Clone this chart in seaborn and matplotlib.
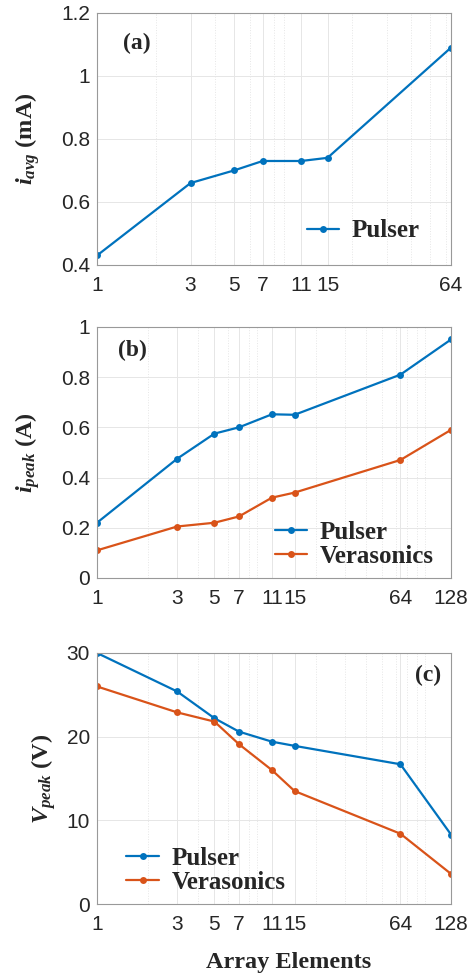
import matplotlib
matplotlib.use("Agg")
import matplotlib.pyplot as plt
import matplotlib.ticker as mticker
import seaborn as sns

# data
elements_a = [1, 3, 5, 7, 11, 15, 64]
elements_bc = [1, 3, 5, 7, 11, 15, 64, 128]

iavg_pulser = [0.43, 0.66, 0.70, 0.73, 0.73, 0.74, 1.09]

ipeak_pulser = [0.22, 0.475, 0.575, 0.60, 0.652, 0.65, 0.81, 0.95]
ipeak_verasonics = [0.11, 0.205, 0.22, 0.245, 0.32, 0.34, 0.47, 0.59]

vpeak_pulser = [30.0, 25.4, 22.2, 20.6, 19.4, 18.9, 16.7, 8.3]
vpeak_verasonics = [26.0, 22.9, 21.8, 19.1, 16.0, 13.5, 8.4, 3.6]

BLUE = "#0072BD"
ORANGE = "#D95319"

sns.set_theme(style="whitegrid")
plt.rcParams["font.family"] = ["Liberation Sans", "DejaVu Sans"]
plt.rcParams["mathtext.fontset"] = "custom"
plt.rcParams["mathtext.it"] = "Liberation Serif:italic:bold"
plt.rcParams["mathtext.rm"] = "Liberation Serif:bold"
plt.rcParams["mathtext.bf"] = "Liberation Serif:bold"

serif_bold = dict(family="Liberation Serif", weight="bold")
legend_kw = dict(frameon=False, prop=dict(size=18, **serif_bold), handlelength=1.3,
                 handletextpad=0.5, borderaxespad=0, labelspacing=0.05)

fig = plt.figure(figsize=(4.7, 9.73), dpi=100)
ax_a = fig.add_axes([0.2064, 0.7277, 0.7532, 0.259])
ax_b = fig.add_axes([0.2064, 0.4060, 0.7532, 0.258])
ax_c = fig.add_axes([0.2064, 0.0709, 0.7532, 0.258])


def style_axis(ax, xticks, xmax, ylim, yticks, yticklabels):
    ax.set_xscale("log")
    ax.set_xlim(1, xmax)
    ax.set_ylim(*ylim)
    ax.xaxis.set_major_locator(mticker.FixedLocator(xticks))
    ax.xaxis.set_major_formatter(mticker.FixedFormatter([str(t) for t in xticks]))
    ax.xaxis.set_minor_locator(mticker.LogLocator(base=10, subs=range(2, 10), numticks=20))
    ax.xaxis.set_minor_formatter(mticker.NullFormatter())
    ax.set_yticks(yticks)
    ax.set_yticklabels(yticklabels)
    ax.set_facecolor("white")
    ax.grid(True, which="major", color="#e6e6e6", linewidth=0.7, linestyle="-")
    ax.grid(True, which="minor", axis="x", color="#e6e6e6", linewidth=0.7, linestyle=":")
    ax.tick_params(axis="both", which="major", direction="in", length=3, width=0.6,
                   labelsize=15, labelcolor="#262626", color="#555555", pad=5)
    ax.tick_params(axis="x", which="major", pad=8)
    ax.tick_params(axis="x", which="minor", direction="in", length=2, width=0.5, color="#555555")
    for sp in ax.spines.values():
        sp.set_color("#999999")
        sp.set_linewidth(0.8)
    ax.set_xlabel("")


def add_series(ax, x, y, color, label):
    sns.lineplot(x=x, y=y, ax=ax, color=color, marker="o", markersize=5,
                 markeredgewidth=0, linewidth=1.6, label=label)


# (a)
add_series(ax_a, elements_a, iavg_pulser, BLUE, "Pulser")
style_axis(ax_a, elements_a, 64, (0.4, 1.2), [0.4, 0.6, 0.8, 1.0, 1.2],
           ["0.4", "0.6", "0.8", "1", "1.2"])
ax_a.set_ylabel(r"$i_{avg}$ (mA)", fontsize=17.5, **serif_bold)
ax_a.yaxis.set_label_coords(-0.155, 0.5)
ax_a.text(0.113, 0.88, "(a)", transform=ax_a.transAxes, ha="center", va="center",
          fontsize=17, **serif_bold)
ax_a.legend(loc="lower right", bbox_to_anchor=(0.94, 0.05), **legend_kw)

# (b)
add_series(ax_b, elements_bc, ipeak_pulser, BLUE, "Pulser")
add_series(ax_b, elements_bc, ipeak_verasonics, ORANGE, "Verasonics")
style_axis(ax_b, elements_bc, 128, (0, 1), [0, 0.2, 0.4, 0.6, 0.8, 1.0],
           ["0", "0.2", "0.4", "0.6", "0.8", "1"])
ax_b.set_ylabel(r"$i_{peak}$ (A)", fontsize=17.5, **serif_bold)
ax_b.yaxis.set_label_coords(-0.155, 0.5)
ax_b.text(0.1, 0.908, "(b)", transform=ax_b.transAxes, ha="center", va="center",
          fontsize=17, **serif_bold)
ax_b.legend(loc="lower right", bbox_to_anchor=(0.98, 0.0), **legend_kw)

# (c)
add_series(ax_c, elements_bc, vpeak_pulser, BLUE, "Pulser")
add_series(ax_c, elements_bc, vpeak_verasonics, ORANGE, "Verasonics")
style_axis(ax_c, elements_bc, 128, (0, 30), [0, 10, 20, 30], ["0", "10", "20", "30"])
ax_c.set_ylabel(r"$V_{peak}$ (V)", fontsize=17.5, **serif_bold)
ax_c.yaxis.set_label_coords(-0.11, 0.5)
ax_c.text(0.935, 0.912, "(c)", transform=ax_c.transAxes, ha="center", va="center",
          fontsize=17, **serif_bold)
ax_c.legend(loc="lower left", bbox_to_anchor=(0.055, 0.0), **legend_kw)
ax_c.set_xlabel("Array Elements", fontsize=17.5, **serif_bold)
ax_c.xaxis.set_label_coords(0.54, -0.19)

fig.savefig("out.png", dpi=100)
plt.close(fig)
